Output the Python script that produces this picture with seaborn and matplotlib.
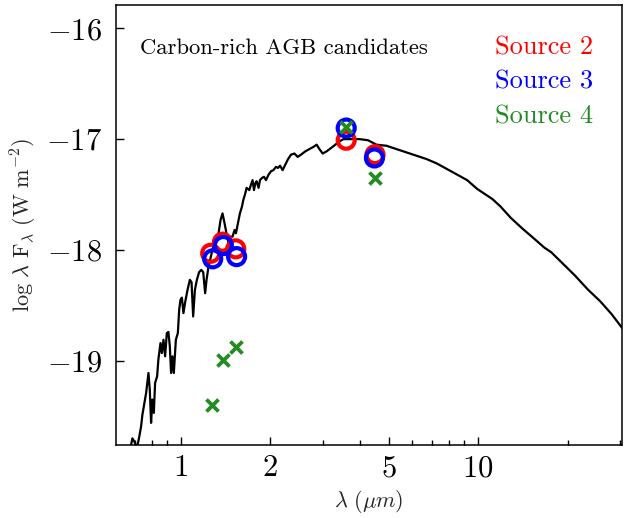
import matplotlib
matplotlib.use("Agg")
import matplotlib.pyplot as plt
from matplotlib.ticker import FixedLocator, LogLocator, FuncFormatter, NullFormatter
import seaborn as sns
import pandas as pd

sns.set_theme(style="ticks")
plt.rcParams["font.family"] = "cmr10"
plt.rcParams["mathtext.fontset"] = "cm"
plt.rcParams["axes.unicode_minus"] = False
plt.rcParams["axes.formatter.use_mathtext"] = True

# ── model spectrum (wavelength in micron, log lambda F_lambda) ───────────────
wl = [0.675, 0.687, 0.698, 0.711, 0.724, 0.735, 0.742, 0.754, 0.764, 0.778,
      0.786, 0.794, 0.802, 0.811, 0.819, 0.832, 0.840, 0.854, 0.863, 0.874,
      0.885, 0.897, 0.908, 0.918, 0.927, 0.937, 0.947, 0.962, 0.977, 0.987,
      0.997, 1.008, 1.020, 1.034, 1.053, 1.072, 1.086, 1.100, 1.115, 1.132,
      1.152, 1.171, 1.189, 1.207, 1.220, 1.239, 1.262, 1.285, 1.312, 1.339,
      1.360, 1.381, 1.403, 1.424, 1.447, 1.470, 1.492, 1.516, 1.532, 1.556,
      1.580, 1.605, 1.622, 1.647, 1.664, 1.699, 1.722, 1.743, 1.762, 1.780,
      1.798, 1.826, 1.846, 1.875, 1.904, 1.934, 1.973, 2.011, 2.047, 2.090,
      2.123, 2.157, 2.200, 2.246, 2.294, 2.348, 2.410, 2.472, 2.537, 2.624,
      2.707, 2.792, 2.864, 2.925, 3.001, 3.095, 3.203, 3.311, 3.416, 3.524,
      3.643, 3.787, 3.990, 4.263, 4.551, 4.920, 5.316, 5.746, 6.211, 6.711,
      7.270, 7.864, 8.496, 9.189, 9.938, 10.47, 11.17, 11.92, 12.88, 14.14,
      15.47, 16.73, 17.62, 19.06, 21.17, 23.47, 25.70, 28.16, 30.45, 32.4]
logf = [-19.80, -19.70, -19.73, -19.79, -19.69, -19.59, -19.49, -19.38, -19.29, -19.11,
        -19.26, -19.56, -19.35, -19.47, -19.20, -19.14, -18.99, -18.84, -18.93, -18.81,
        -18.96, -18.75, -18.74, -18.87, -19.11, -18.96, -19.11, -18.81, -18.75, -18.54,
        -18.45, -18.43, -18.57, -18.47, -18.36, -18.27, -18.29, -18.60, -18.36, -18.27,
        -18.20, -18.18, -18.20, -18.39, -18.27, -18.15, -18.06, -17.97, -17.88, -17.85,
        -17.73, -17.67, -17.76, -17.85, -17.94, -17.88, -17.88, -17.82, -17.85, -17.76,
        -17.67, -17.61, -17.55, -17.49, -17.44, -17.46, -17.41, -17.37, -17.46, -17.40,
        -17.38, -17.44, -17.37, -17.35, -17.34, -17.37, -17.32, -17.29, -17.28, -17.25,
        -17.26, -17.24, -17.28, -17.23, -17.18, -17.14, -17.13, -17.16, -17.14, -17.11,
        -17.09, -17.07, -17.05, -17.09, -17.13, -17.11, -17.08, -17.05, -17.02, -17.00,
        -17.00, -17.00, -17.00, -17.01, -17.05, -17.06, -17.09, -17.12, -17.15, -17.18,
        -17.22, -17.27, -17.32, -17.37, -17.45, -17.49, -17.54, -17.61, -17.71, -17.81,
        -17.90, -17.98, -18.02, -18.11, -18.23, -18.36, -18.46, -18.58, -18.70, -18.78]

# ── photometry ───────────────────────────────────────────────────────────────
src2_wl = [1.26, 1.38, 1.53, 3.60, 4.50]
src2_f  = [-18.03, -17.93, -17.99, -17.01, -17.14]
src3_wl = [1.28, 1.39, 1.54, 3.60, 4.48]
src3_f  = [-18.08, -17.96, -18.06, -16.90, -17.17]
src4_wl = [1.27, 1.39, 1.53, 3.60, 4.50]
src4_f  = [-19.40, -18.99, -18.88, -16.89, -17.35]

spec = pd.DataFrame({"wl": wl, "logf": logf})

fig = plt.figure(figsize=(6.25, 5.18), dpi=100)
ax = fig.add_axes([0.1856, 0.1409, 0.8096, 0.8494])

sns.lineplot(data=spec, x="wl", y="logf", ax=ax, color="black", lw=1.6,
             estimator=None, sort=False, zorder=1)
sns.scatterplot(x=src2_wl, y=src2_f, ax=ax, marker="o", s=150, fc="none",
                edgecolor="red", linewidth=3.0, label="Source 2", zorder=2)
sns.scatterplot(x=src3_wl, y=src3_f, ax=ax, marker="o", s=150, fc="none",
                edgecolor="blue", linewidth=3.0, label="Source 3", zorder=3)
sns.scatterplot(x=src4_wl, y=src4_f, ax=ax, marker="x", s=75,
                color="forestgreen", linewidth=2.7, label="Source 4", zorder=4)

ax.set_xscale("log")
ax.set_xlim(0.605, 30.5)
ax.set_ylim(-19.76, -15.79)

ax.xaxis.set_major_locator(FixedLocator([1, 2, 5, 10]))
ax.xaxis.set_major_formatter(FuncFormatter(lambda v, p: r"$%d$" % round(v)))
ax.xaxis.set_minor_locator(LogLocator(base=10, subs=range(1, 10)))
ax.xaxis.set_minor_formatter(NullFormatter())
ax.yaxis.set_major_locator(FixedLocator([-19, -18, -17, -16]))
ax.yaxis.set_major_formatter(FuncFormatter(lambda v, p: r"$-%d$" % round(-v)))

ax.tick_params(axis="both", which="both", direction="in", top=False, right=False,
               colors="black", width=1.0)
ax.tick_params(axis="both", which="major", length=6, labelsize=22)
ax.tick_params(axis="x", which="major", pad=7)
ax.tick_params(axis="y", which="major", pad=10)
ax.tick_params(axis="x", which="minor", length=3.5)
for sp in ax.spines.values():
    sp.set_edgecolor("black")
    sp.set_linewidth(1.1)

ax.set_xlabel(r"$\lambda\ (\mu m)$", fontsize=16, labelpad=4)
ax.set_ylabel(r"$\log\,\lambda\ \mathrm{F}_\lambda\ (\mathrm{W\ m}^{-2})$",
              fontsize=16, labelpad=5)

ax.text(0.047, 0.889, "Carbon-rich AGB candidates", transform=ax.transAxes,
        fontsize=16.3, va="baseline", ha="left", color="black")

leg = ax.legend(loc="upper right", bbox_to_anchor=(0.99, 0.985), frameon=False,
                fontsize=19, handlelength=0, handletextpad=0, labelspacing=0.42,
                borderaxespad=0.5)
for t, c in zip(leg.get_texts(), ["red", "blue", "forestgreen"]):
    t.set_color(c)
for h in leg.legend_handles:
    h.set_visible(False)

fig.savefig("out.png", dpi=100)
